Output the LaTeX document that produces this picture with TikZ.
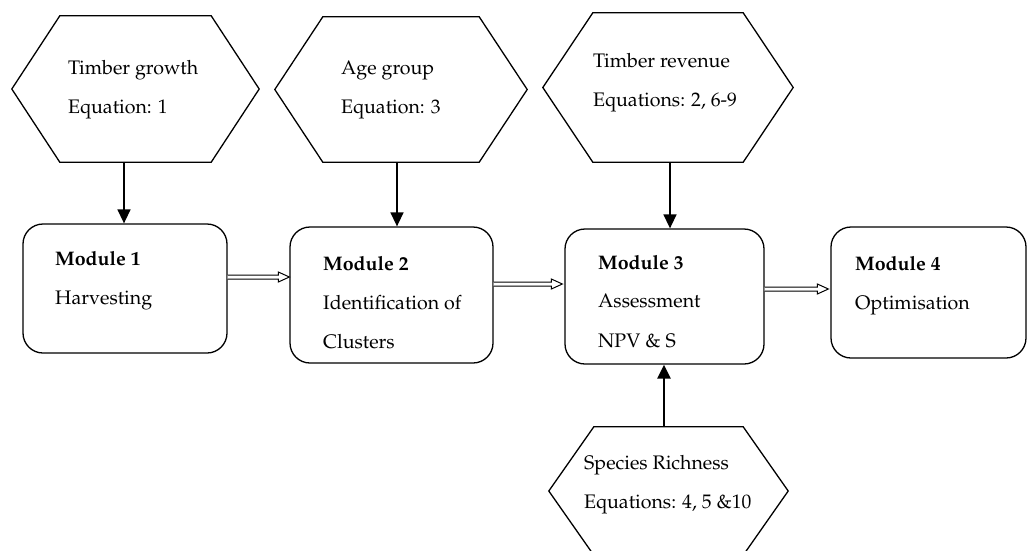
\documentclass[tikz,border=0pt]{standalone}
\usepackage[T1]{fontenc}
\usepackage{mathpazo}
\usetikzlibrary{arrows.meta,calc}
\tikzset{
  outline/.style={line width=1.3pt, draw=black},
  hexn/.style={inner sep=0pt, draw=none},
  modbox/.style={draw=black, line width=1.3pt, rounded corners=20pt, inner sep=0pt},
  txt/.style={anchor=base west, inner sep=0pt, font=\fontsize{19.6}{23}\selectfont},
  btxt/.style={txt, font=\fontsize{19.6}{23}\selectfont\bfseries},
  arr/.style={line width=1.5pt, -{Triangle[length=14pt,width=13pt]}},
  thickarr/.style={line width=2.5pt, -{Triangle[length=14pt,width=13pt]}},
  blk/.style={line width=1pt, draw=black, fill=white},
}
\newcommand\hexdraw[2]{%
  \draw[outline] (#1.west) -- ([xshift=#2pt]#1.north west) -- ([xshift=-#2pt]#1.north east)
    -- (#1.east) -- ([xshift=-#2pt]#1.south east) -- ([xshift=#2pt]#1.south west) -- cycle;}
\newcommand\blockarr[4]{% from, to, y, gap
  \coordinate (ba-y) at (0,#3);
  \coordinate (ba-s) at (#1.east |- ba-y);
  \coordinate (ba-e) at ([xshift=-#4pt]#2.west |- ba-y);
  \draw[blk] ($(ba-s)+(0,-2)$) -- ($(ba-e)+(-11,-2)$) -- ($(ba-e)+(-11,-5)$) -- (ba-e)
    -- ($(ba-e)+(-11,5)$) -- ($(ba-e)+(-11,2)$) -- ($(ba-s)+(0,2)$);}
\begin{document}
\begin{tikzpicture}[x=1pt,y=-1pt]
\useasboundingbox (0,0) rectangle (1027,550);
% hexagons
\node[hexn, minimum width=247pt, minimum height=146pt] (h1) at (135.5,89) {};
\hexdraw{h1}{48}
\node[hexn, minimum width=252pt, minimum height=145pt] (h2) at (401,89.5) {};
\hexdraw{h2}{48}
\node[hexn, minimum width=250pt, minimum height=149pt] (h3) at (668,87.5) {};
\hexdraw{h3}{50}
\node[hexn, minimum width=239pt, minimum height=128pt] (h4) at (668.5,491) {};
\hexdraw{h4}{45}
\node[txt] (h1a) at (68,74) {Timber growth};
\node[txt] (h1b) at (68,113) {Equation: 1};
\node[txt] (h2a) at (341,74) {Age group};
\node[txt] (h2b) at (341,113) {Equation: 3};
\node[txt] (h3a) at (593,67) {Timber revenue};
\node[txt] (h3b) at (593,106) {Equations: 2, 6-9};
\node[txt] (h4a) at (584,469) {Species Richness};
\node[txt] (h4b) at (584,508) {Equations: 4, 5 \&10};
% modules
\node[modbox, minimum width=204pt, minimum height=129pt] (m1) at (125,288.5) {};
\node[modbox, minimum width=203pt, minimum height=136pt] (m2) at (391.5,295) {};
\node[modbox, minimum width=199pt, minimum height=135pt] (m3) at (664.5,296.5) {};
\node[modbox, minimum width=195pt, minimum height=131pt] (m4) at (928.5,292.5) {};
\node[btxt] (m1a) at (55,265) {Module 1};
\node[txt] (m1b) at (55,304) {Harvesting};
\node[btxt] (m2a) at (323,270) {Module 2};
\node[txt] (m2b) at (323,309) {Identification of};
\node[txt] (m2c) at (323,348) {Clusters};
\node[btxt] (m3a) at (598,269) {Module 3};
\node[txt] (m3b) at (598,307) {Assessment};
\node[txt] (m3c) at (598,347) {NPV \& S};
\node[btxt] (m4a) at (855,270) {Module 4};
\node[txt] (m4b) at (855,309) {Optimisation};
% connectors
\draw[arr] ([xshift=-11.5pt]h1.south) -- ([xshift=-1pt]m1.north);
\draw[arr] ([xshift=-4pt]h2.south) -- ([xshift=5.5pt]m2.north);
\draw[arr] ([xshift=2pt]h3.south) -- ([xshift=5.5pt]m3.north);
\draw[thickarr] ([xshift=-4.5pt]h4.north) -- ([xshift=-0.5pt]m3.south);
\blockarr{m1}{m2}{277}{0}
\blockarr{m2}{m3}{284}{2}
\blockarr{m3}{m4}{289}{2}
\end{tikzpicture}
\end{document}
